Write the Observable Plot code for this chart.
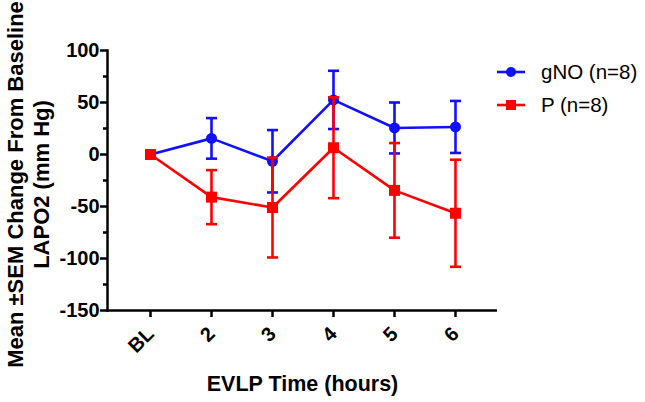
<!DOCTYPE html>
<html>
<head>
<meta charset="utf-8">
<script src="https://cdn.jsdelivr.net/npm/d3@7"></script>
<script src="https://cdn.jsdelivr.net/npm/@observablehq/plot@0.6"></script>
<style>
  html, body { margin: 0; padding: 0; background: #fff; }
  #wrap { position: relative; width: 645px; height: 402px; overflow: hidden; font-family: "Liberation Sans", Arial, sans-serif; }
  #legend { position: absolute; left: 496px; top: 55px; }
  .item { display: flex; align-items: center; height: 33px; font-size: 20.5px; color: #000; }
  .item svg { margin-right: 15px; }
</style>
</head>
<body>
<div id="wrap"><div id="legend"></div></div>
<script>
const timepoints = ["BL", "2", "3", "4", "5", "6"];
const gNOMean = [0, 15.5, -6.5, 52.5, 25.5, 26.5];
const gNOSem  = [0, 19.5, 30, 28, 24.5, 25];
const pMean   = [0, -41, -51, 6.5, -34.5, -56.5];
const pSem    = [0, 26, 48, 48.5, 45.5, 51.5];
const seriesNames = ["gNO (n=8)", "P (n=8)"];
const seriesColors = ["#1010ff", "#ff0000"];
const yMajorTicks = [-150, -100, -50, 0, 50, 100];
const yMinorTicks = [-125, -75, -25, 25, 75];
const yLabel = "Mean \u00b1SEM Change From Baseline\nLAPO2 (mm Hg)";
const xLabel = "EVLP Time (hours)";

const gno = timepoints.map((t, i) => ({t, mean: gNOMean[i], lo: gNOMean[i] - gNOSem[i], hi: gNOMean[i] + gNOSem[i], sem: gNOSem[i]}));
const pp  = timepoints.map((t, i) => ({t, mean: pMean[i], lo: pMean[i] - pSem[i], hi: pMean[i] + pSem[i], sem: pSem[i]}));

// horizontal cap symbol for error bars
const capSymbol = {draw(ctx) { ctx.moveTo(-5.5, 0); ctx.lineTo(5.5, 0); }};

function seriesMarks(data, color, symbol, r) {
  const withErr = data.filter(d => d.sem > 0);
  return [
    Plot.line(data, {x: "t", y: "mean", stroke: color, strokeWidth: 2.6}),
    Plot.ruleX(withErr, {x: "t", y1: "lo", y2: "hi", stroke: color, strokeWidth: 2.6}),
    Plot.dot(withErr, {x: "t", y: "hi", stroke: color, strokeWidth: 2.6, symbol: capSymbol}),
    Plot.dot(withErr, {x: "t", y: "lo", stroke: color, strokeWidth: 2.6, symbol: capSymbol}),
    Plot.dot(data, {x: "t", y: "mean", fill: color, stroke: "none", symbol, r})
  ];
}

const chart = Plot.plot({
  width: 645,
  height: 402,
  marginLeft: 107,
  marginTop: 50,
  marginBottom: 92,
  marginRight: 148,
  style: {fontFamily: "'Liberation Sans', Arial, sans-serif", fontWeight: "bold", fontSize: "20px", color: "#000", background: "#fff", overflow: "visible"},
  x: {type: "point", domain: timepoints, padding: 0.65},
  y: {domain: [-150, 100]},
  marks: [
    Plot.axisY({ticks: yMajorTicks, tickSize: 7, tickPadding: 1, tickFormat: d => String(d), strokeWidth: 2.5, fontSize: 20, fontWeight: "bold", label: null}),
    Plot.axisY({ticks: yMinorTicks, tickSize: 4, tickFormat: () => "", strokeWidth: 2.5, label: null}),
    Plot.axisX({tickSize: 7, tickPadding: 13, tickRotate: -45, strokeWidth: 2.5, fontSize: 20, fontWeight: "bold", label: null}),
    Plot.frame({anchor: "left", stroke: "#000", strokeWidth: 2.5}),
    Plot.ruleY([-150], {stroke: "#000", strokeWidth: 2.5}),
    ...seriesMarks(gno, seriesColors[0], "circle", 5.5),
    ...seriesMarks(pp, seriesColors[1], "square", 6.2),
    Plot.text([yLabel], {frameAnchor: "left", textAnchor: "middle", text: d => d, rotate: -90, dx: -80, dy: 4, lineAnchor: "middle", lineHeight: 1.18, fontSize: 22, fontWeight: "bold", fill: "#000"}),
    Plot.text([xLabel], {frameAnchor: "bottom", text: d => d, dy: 74, lineAnchor: "middle", fontSize: 21.5, fontWeight: "bold", fill: "#000"})
  ]
});
document.getElementById("wrap").prepend(chart);

const legend = document.getElementById("legend");
seriesNames.forEach((name, i) => {
  const item = document.createElement("div");
  item.className = "item";
  const ns = "http://www.w3.org/2000/svg";
  const s = document.createElementNS(ns, "svg");
  s.setAttribute("width", "30"); s.setAttribute("height", "16");
  const ln = document.createElementNS(ns, "line");
  ln.setAttribute("x1", "1"); ln.setAttribute("x2", "29"); ln.setAttribute("y1", "8"); ln.setAttribute("y2", "8");
  ln.setAttribute("stroke", seriesColors[i]); ln.setAttribute("stroke-width", "2.6");
  s.appendChild(ln);
  let m;
  if (i === 0) {
    m = document.createElementNS(ns, "circle");
    m.setAttribute("cx", "15"); m.setAttribute("cy", "8"); m.setAttribute("r", "5");
  } else {
    m = document.createElementNS(ns, "rect");
    m.setAttribute("x", "10"); m.setAttribute("y", "3"); m.setAttribute("width", "10"); m.setAttribute("height", "10");
  }
  m.setAttribute("fill", seriesColors[i]);
  s.appendChild(m);
  item.appendChild(s);
  const span = document.createElement("span");
  span.textContent = name;
  item.appendChild(span);
  legend.appendChild(item);
});
</script>
</body>
</html>
